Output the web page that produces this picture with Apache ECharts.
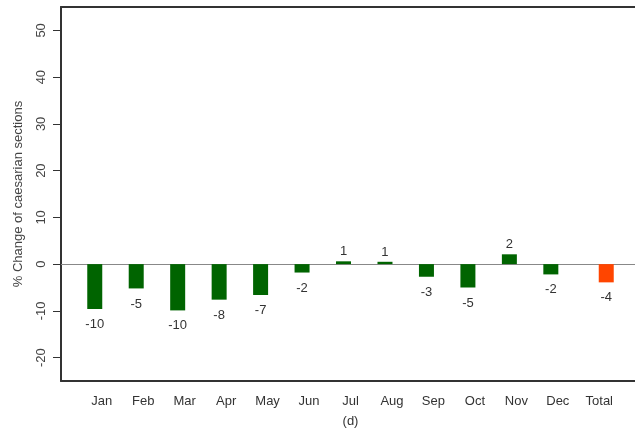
<!DOCTYPE html>
<html>
<head>
<meta charset="utf-8">
<style>
  html, body { margin: 0; padding: 0; background: #fff; }
  #chart { width: 635px; height: 433px; }
</style>
<script src="https://cdn.jsdelivr.net/npm/echarts@6/dist/echarts.min.js"></script>
</head>
<body>
<div id="chart"></div>
<script>
// categories and values
var months = ['Jan', 'Feb', 'Mar', 'Apr', 'May', 'Jun', 'Jul', 'Aug', 'Sep', 'Oct', 'Nov', 'Dec', 'Total']
var monthValues = [-9.6, -5.2, -9.9, -7.6, -6.6, -1.8, 0.6, 0.5, -2.7, -5.0, 2.1, -2.2]
var totalValue = -3.9
var yTicks = [-20, -10, 0, 10, 20, 30, 40, 50]

// labels under negative bars, over positive ones
function withLabel (v) {
  if (v === null) return null
  return {
    value: v,
    label: { position: v < 0 ? 'bottom' : 'top', distance: v < 0 ? 9 : 3 }
  }
}

var monthData = monthValues.map(withLabel)
var totalData = months.map(function (m, i) {
  return i === months.length - 1 ? withLabel(totalValue) : null
})

var labelStyle = {
  show: true,
  fontSize: 13,
  color: '#333',
  formatter: function (p) { return Math.round(p.value) }
}

var frameLine = { show: true, onZero: false, lineStyle: { color: '#333', width: 2 } }

var dom = echarts.init(document.getElementById('chart'))
var option = {
  animation: false,
  textStyle: { fontFamily: 'Liberation Sans, Arial, sans-serif' },
  grid: [
    // frame (left, top, bottom), runs off the right edge
    { left: 61, top: 7, right: 0, bottom: 52 },
    // bars
    { left: 81, top: 7, right: 15, bottom: 52 },
    // zero line
    { left: 61, top: 7, right: 0, bottom: 52 }
  ],
  xAxis: [
    { gridIndex: 0, type: 'value', min: 0, max: 1, position: 'top', axisLine: frameLine, axisTick: { show: false }, axisLabel: { show: false }, splitLine: { show: false } },
    { gridIndex: 0, type: 'value', min: 0, max: 1, position: 'bottom', axisLine: frameLine, axisTick: { show: false }, axisLabel: { show: false }, splitLine: { show: false } },
    {
      gridIndex: 1,
      type: 'category',
      data: months,
      axisLine: { show: false },
      axisTick: { show: false },
      axisLabel: { fontSize: 13, color: '#333', margin: 14 },
      name: '(d)',
      nameLocation: 'middle',
      nameGap: 34,
      nameTextStyle: { fontSize: 13, color: '#333' }
    },
    {
      gridIndex: 2,
      type: 'value',
      min: 0,
      max: 1,
      axisLine: { show: true, onZero: true, lineStyle: { color: '#888', width: 1 } },
      axisTick: { show: false },
      axisLabel: { show: false },
      splitLine: { show: false }
    }
  ],
  yAxis: [
    {
      gridIndex: 0,
      type: 'value',
      min: -25,
      max: 55,
      axisLine: frameLine,
      axisTick: { show: true, length: 8, customValues: yTicks, lineStyle: { color: '#333' } },
      axisLabel: { customValues: yTicks, rotate: 90, fontSize: 13, color: '#444', margin: 13 },
      splitLine: { show: false },
      name: '% Change of caesarian sections',
      nameLocation: 'middle',
      nameGap: 36,
      nameTextStyle: { fontSize: 13, color: '#444' }
    },
    { gridIndex: 1, type: 'value', min: -25, max: 55, show: false },
    { gridIndex: 2, type: 'value', min: -25, max: 55, show: false }
  ],
  series: [
    {
      name: 'Month',
      type: 'bar',
      xAxisIndex: 2,
      yAxisIndex: 1,
      data: monthData,
      barWidth: 15,
      barGap: '-7%',
      itemStyle: { color: '#006400' },
      label: labelStyle
    },
    {
      name: 'Total',
      type: 'bar',
      xAxisIndex: 2,
      yAxisIndex: 1,
      data: totalData,
      barWidth: 15,
      itemStyle: { color: '#ff4500' },
      label: labelStyle
    }
  ]
}
dom.setOption(option)
</script>
</body>
</html>
